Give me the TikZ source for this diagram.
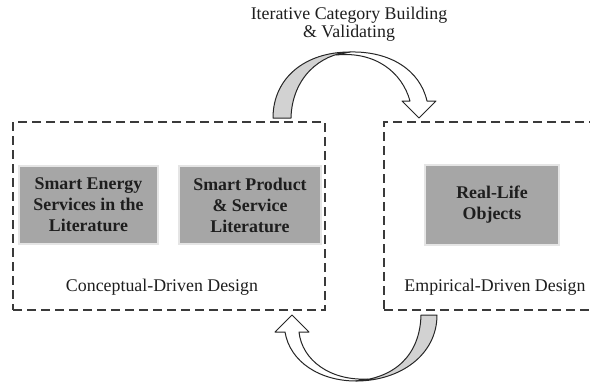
\documentclass[tikz,border=0pt]{standalone}
\usepackage{fontspec}
\setmainfont{Liberation Serif}
\definecolor{boxgray}{HTML}{A6A6A6}
\definecolor{bandgray}{HTML}{D2D2D2}
\definecolor{dashcol}{HTML}{3A3A3A}
\definecolor{txt}{HTML}{1E1E1E}
\tikzset{
  group/.style={draw=dashcol, line width=1pt, dash pattern=on 6.75pt off 3.75pt, inner sep=0pt},
  src/.style={fill=boxgray, draw=black!10, line width=1pt, font=\fontsize{13.4}{15.8}\selectfont\bfseries, align=center, inner sep=0pt, text=txt},
  lbl/.style={font=\fontsize{13.4}{15.8}\selectfont, text=txt, align=center, inner sep=0pt},
  band/.style={draw=black!85, line width=0.75pt, line join=round}
}
\begin{document}
\begin{tikzpicture}[x=0.75pt,y=-0.75pt]
\useasboundingbox (0,0) rectangle (590,382);
\clip (0,0) rectangle (590,382);
% dashed groups
\node[group, minimum width=234pt, minimum height=141pt] (cdd) at (169,216) {};
\node[group, minimum width=162pt, minimum height=141pt] (edd) at (492,216) {};
% source boxes
\node[src, minimum width=104.25pt, minimum height=58.5pt] (ses) at (88.5,205) {Smart Energy\\Services in the\\Literature};
\node[src, minimum width=106.5pt, minimum height=58.5pt] (sps) at (250,205) {Smart Product\\\& Service\\Literature};
\node[src, minimum width=100.5pt, minimum height=60pt] (rlo) at (492,205) {Real-Life\\Objects};
% labels
\node[lbl] (cddl) at (162,287) {Conceptual-Driven Design};
\node[lbl] (eddl) at (495,287) {Empirical-Driven Design};
\node[lbl, font=\fontsize{13.4}{13.6}\selectfont] (itl) at (349,24) {Iterative Category Building\\\& Validating};
% top curved arrow
\draw[band, fill=white] (336,55) .. controls (375,51) and (402,72) .. (410,101) -- (402,101) -- (419,118) -- (436,101) -- (427,101) .. controls (420,70) and (390,51) .. (350,52) -- cycle;
\draw[band, fill=bandgray] (273,118) .. controls (273,78) and (305,52) .. (350,52) .. controls (320,54) and (292,78) .. (291,118) -- cycle;
% bottom curved arrow
\draw[band, fill=white] (368,379) .. controls (330,381) and (302,360) .. (299,332) -- (309,332) -- (292,315) -- (275,332) -- (285,332) .. controls (290,362) and (320,381) .. (356,381) -- cycle;
\draw[band, fill=bandgray] (437,315) .. controls (437,355) and (400,381) .. (356,381) .. controls (395,378) and (420,355) .. (421,315) -- cycle;
\end{tikzpicture}
\end{document}
